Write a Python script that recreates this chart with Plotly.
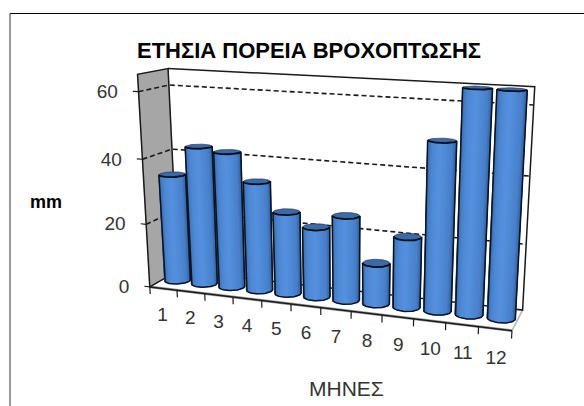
import numpy as np
import plotly.graph_objects as go

# Monthly rainfall (mm)
months = ["1", "2", "3", "4", "5", "6", "7", "8", "9", "10", "11", "12"]
rainfall = [34, 43.3, 42.3, 34, 25.5, 21.7, 26, 12.5, 21.4, 50, 65, 65]
value_ticks = [0, 20, 40, 60]
value_max = 65

title_text = "ΕΤΗΣΙΑ ΠΟΡΕΙΑ ΒΡΟΧΟΠΤΩΣΗΣ"
x_title = "ΜΗΝΕΣ"
y_title = "mm"

# Camera calibration: box corners (month, depth, value) and where they land on the page
box_corners = [(0, 0, 0), (12, 0, 0), (0, 1, 0), (12, 1, 0), (0, 0, 65), (0, 1, 65), (12, 1, 65)]
page_corners = [(149.7, 286), (512.3, 331), (178, 271.5), (522.3, 309.7),
                (137.3, 75), (168.3, 68), (534.7, 86.7)]


def fit_camera(world, page):
    rows = []
    for (a, b, c), (u, v) in zip(world, page):
        w = [a / 12, b, c / value_max, 1]
        u, v = u / 500, v / 500
        rows.append(w + [0, 0, 0, 0] + [-u * q for q in w])
        rows.append([0, 0, 0, 0] + w + [-v * q for q in w])
    return np.linalg.svd(np.array(rows))[2][-1].reshape(3, 4)


CAM = fit_camera(box_corners, page_corners)


def project(month, depth, value):
    m = np.asarray(month, float)
    d = np.broadcast_to(np.asarray(depth, float), m.shape)
    z = np.broadcast_to(np.asarray(value, float), m.shape)
    h = CAM @ np.stack([m / 12, d, z / value_max, np.ones_like(m)])
    return h[0] / h[2] * 500, h[1] / h[2] * 500


def seg(*pts):
    """Project a polyline given as (month, depth, value) points."""
    a = np.array(pts, float)
    x, y = project(a[:, 0], a[:, 1], a[:, 2])
    return list(x), list(y)


def line_trace(x, y, color="#000000", width=1.2, dash="solid"):
    return go.Scatter(x=x, y=y, mode="lines", hoverinfo="skip", showlegend=False,
                      line=dict(color=color, width=width, dash=dash))


def fill_trace(x, y, color, edge=None):
    return go.Scatter(x=x, y=y, mode="lines", fill="toself", fillcolor=color, hoverinfo="skip",
                      showlegend=False, line=dict(color=edge or color, width=0.6))


def joined(paths):
    xs, ys = [], []
    for x, y in paths:
        xs += list(x) + [None]
        ys += list(y) + [None]
    return xs, ys


traces = []

# Grey side wall with its frame
wall_x, wall_y = seg((0, 0, 0), (0, 0, value_max), (0, 1, value_max), (0, 1, 0), (0, 0, 0))
traces.append(fill_trace(wall_x, wall_y, "#a6a6a6", "#a6a6a6"))

# Dashed gridlines across the side wall and back wall
grid_paths = [seg((0, 0, v), (0, 1, v), (12, 1, v)) for v in value_ticks[1:]]
traces.append(line_trace(*joined(grid_paths), color="#1a1a1a", width=1.6, dash="5px,3px"))

# Floor edges
traces.append(line_trace(*seg((12, 0, 0), (12, 1, 0)), color="#bdbdbd", width=1.8))
traces.append(line_trace(*seg((0, 0, 0), (12, 0, 0)), color="#a0a0a0", width=2.8))

# Box frame
frame = [seg((0, 0, 0), (0, 0, value_max), (0, 1, value_max), (0, 1, 0), (0, 0, 0)),
         seg((0, 1, value_max), (12, 1, value_max), (12, 1, 0), (0, 1, 0)),
         seg((0, 0, 0), (12, 0, 0))]
traces.append(line_trace(*joined(frame), color="#1a1a1a", width=1.5))

# Tick marks on the value axis and along the month axis
value_tick_paths = [seg((-0.2, 0, v), (0, 0, v)) for v in value_ticks]
month_tick_paths = [seg((i, 0, 0), (i, 0, -2.3)) for i in range(13)]
traces.append(line_trace(*joined(value_tick_paths + month_tick_paths), color="#1a1a1a", width=1.2))

# Cylinders, shaded with vertical strips
RX, RY = 0.43, 0.22
STRIPS = 26
stops = [(0.0, (30, 62, 108)), (0.08, (54, 102, 168)), (0.3, (78, 136, 212)), (0.48, (86, 146, 224)),
         (0.75, (72, 128, 202)), (0.93, (50, 96, 160)), (1.0, (30, 64, 112))]


def shade(s):
    pos = [p for p, _ in stops]
    return "rgb(%d,%d,%d)" % tuple(np.interp(s, pos, [c[i] for _, c in stops]) for i in range(3))


angles = np.linspace(0, 2 * np.pi, 121)
strip_paths = [[] for _ in range(STRIPS)]
outline_paths, cap_paths, cap_rims = [], [], []
for i, val in enumerate(rainfall):
    cx = i + 0.5
    mx = cx + RX * np.cos(angles)
    dp = 0.5 + RY * np.sin(angles)
    bx, by = project(mx, dp, 0 * mx)
    tx, ty = project(mx, dp, 0 * mx + val)
    # Front arc between the left and right silhouette points of the base
    il, ir = int(np.argmin(bx[:-1])), int(np.argmax(bx[:-1]))
    idx = np.arange(il, il + 121) % 120
    idx = idx[: ((ir - il) % 120) + 1]
    picks = np.linspace(0, len(idx) - 1, STRIPS + 1)
    for k in range(STRIPS):
        arc = idx[int(picks[k]): int(np.ceil(picks[k + 1])) + 1]
        path_x = list(bx[arc]) + list(tx[arc][::-1])
        path_y = list(by[arc]) + list(ty[arc][::-1])
        strip_paths[k].append((path_x + path_x[:1], path_y + path_y[:1]))
    outline_paths.append((list(tx[[il]]) + list(bx[idx]) + list(tx[[ir]]),
                          list(ty[[il]]) + list(by[idx]) + list(ty[[ir]])))
    cap_paths.append((tx, ty))
    cap_rims.append((tx[idx], ty[idx]))

for k, paths in enumerate(strip_paths):
    traces.append(fill_trace(*joined(paths), shade((k + 0.5) / STRIPS)))
traces.append(line_trace(*joined(outline_paths), color="#0c1420", width=1.5))
traces.append(fill_trace(*joined(cap_paths), "#3b6aa8", "#1c2c46"))
traces.append(line_trace(*joined(cap_rims), color="#0a1018", width=1.8))

# Axis labels
mlx, mly = project([i + 0.5 for i in range(12)], 0, -9)
mlx = mlx + (np.arange(12) - 5.5) * 0.4
traces.append(go.Scatter(x=list(mlx), y=list(mly), mode="text", text=months, hoverinfo="skip",
                         showlegend=False, textfont=dict(family="Liberation Sans", size=19, color="#333333")))
vlx, vly = project([-0.2] * len(value_ticks), 0, value_ticks)
traces.append(go.Scatter(x=list(vlx - 15), y=list(vly + 2), mode="text", textposition="middle left",
                         text=[str(v) for v in value_ticks], hoverinfo="skip", showlegend=False,
                         textfont=dict(family="Liberation Sans", size=19, color="#333333")))

# Chart area border: only the top and left edges fall inside the page
traces.append(line_trace([584, 10], [13.5, 13.5], color="#000000", width=1.2))
traces.append(line_trace([10, 10], [13.5, 406], color="#555555", width=1.2))

fig = go.Figure(traces)
fig.update_layout(
    width=584, height=406, margin=dict(l=0, r=0, t=0, b=0), autosize=False,
    paper_bgcolor="white", plot_bgcolor="white", showlegend=False,
    xaxis=dict(range=[0, 584], visible=False, fixedrange=True),
    yaxis=dict(range=[406, 0], visible=False, fixedrange=True),
    title=dict(text="<b>%s</b>" % title_text, x=309 / 584, y=1 - 50 / 406, xanchor="center", yanchor="middle",
               font=dict(family="Liberation Sans", size=22, color="#000000")),
    annotations=[
        dict(x=46, y=202, text="<b>%s</b>" % y_title, showarrow=False, xref="x", yref="y",
             font=dict(family="Liberation Sans", size=18, color="#000000")),
        dict(x=346, y=388, text=x_title, showarrow=False, xref="x", yref="y",
             font=dict(family="Liberation Sans", size=21, color="#333333")),
    ],
)
fig.write_html("out.html")
